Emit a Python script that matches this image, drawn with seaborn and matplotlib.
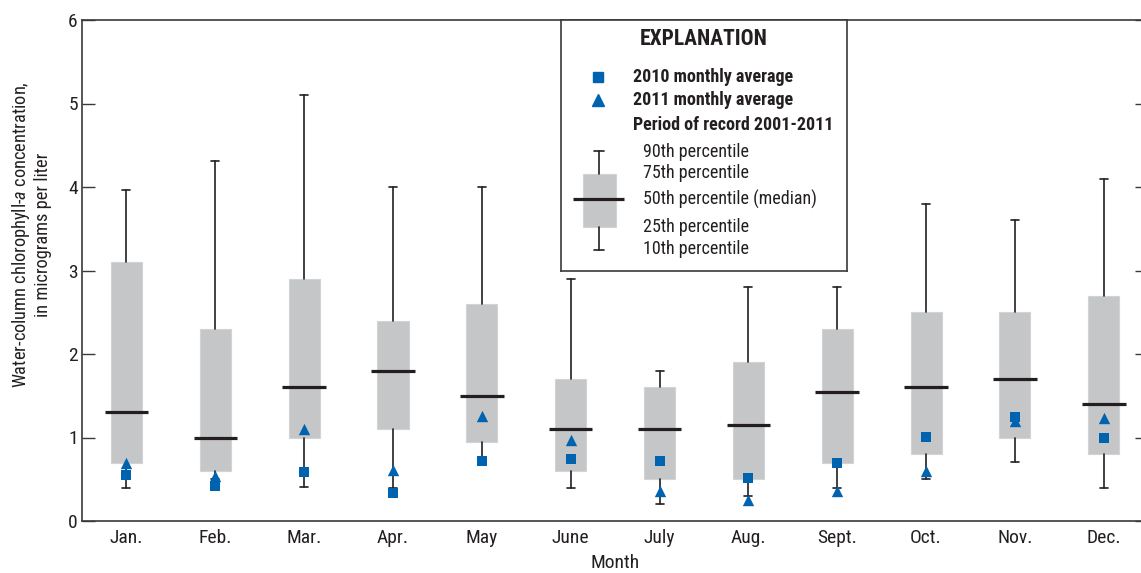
import numpy as np
import pandas as pd
import matplotlib
matplotlib.use("Agg")
import matplotlib.pyplot as plt
from matplotlib import font_manager
import seaborn as sns

# Monthly chlorophyll-a statistics, period of record 2001-2011 (micrograms per liter)
months = ["Jan.", "Feb.", "Mar.", "Apr.", "May", "June",
          "July", "Aug.", "Sept.", "Oct.", "Nov.", "Dec."]
p10 = [0.40, 0.50, 0.41, 0.40, 0.72, 0.40, 0.20, 0.30, 0.40, 0.50, 0.71, 0.40]
p25 = [0.70, 0.60, 1.00, 1.10, 0.95, 0.60, 0.50, 0.50, 0.70, 0.80, 1.00, 0.80]
p50 = [1.30, 1.00, 1.60, 1.80, 1.50, 1.10, 1.10, 1.15, 1.55, 1.60, 1.70, 1.40]
p75 = [3.10, 2.30, 2.90, 2.40, 2.60, 1.70, 1.60, 1.90, 2.30, 2.50, 2.50, 2.70]
p90 = [3.97, 4.31, 5.10, 4.00, 4.00, 2.90, 1.80, 2.80, 2.80, 3.80, 3.60, 4.10]

# Monthly averages for individual years
avg2010 = [0.55, 0.42, 0.59, 0.34, 0.72, 0.74, 0.72, 0.51, 0.70, 1.01, 1.25, 0.99]
avg2011 = [0.70, 0.54, 1.10, 0.61, 1.26, 0.97, 0.36, 0.25, 0.36, 0.60, 1.20, 1.23]

y_ticks = [0, 1, 2, 3, 4, 5, 6]

BLUE = "#0063b0"
GREY = "#c5c6c8"
INK = "#231f20"

sns.set_style("ticks")
available = {f.name for f in font_manager.fontManager.ttflist}
FAMILY = next((n for n in ["Liberation Sans Narrow", "Roboto Condensed", "Open Sans Condensed"]
               if n in available), "Liberation Sans")
plt.rcParams["font.family"] = [FAMILY, "DejaVu Sans"]
plt.rcParams["mathtext.fontset"] = "custom"
plt.rcParams["mathtext.rm"] = FAMILY
plt.rcParams["mathtext.it"] = FAMILY + ":italic"
plt.rcParams["text.color"] = INK

fig = plt.figure(figsize=(11.41, 5.73), dpi=100)
W, H = 1141, 573
ax = fig.add_axes([82 / W, (H - 521) / H, 1060 / W, 501 / H])

pos = np.arange(len(months))

# Boxes: 25th-75th percentile, whiskers to 10th / 90th percentile
stats = [dict(whislo=a, q1=b, med=c, q3=d, whishi=e)
         for a, b, c, d, e in zip(p10, p25, p50, p75, p90)]
ax.bxp(stats, positions=pos, widths=0.35, capwidths=0.09, patch_artist=True,
       showfliers=False,
       boxprops=dict(facecolor=GREY, edgecolor="#d2d3d5", linewidth=0.8),
       whiskerprops=dict(color=INK, linewidth=1.2),
       capprops=dict(color=INK, linewidth=1.2),
       medianprops=dict(linewidth=0), zorder=1)
ax.hlines(p50, pos - 0.245, pos + 0.245, color=INK, linewidth=2.3, zorder=2)

df = pd.DataFrame({"month": months, "y2010": avg2010, "y2011": avg2011})
sns.stripplot(data=df, x="month", y="y2011", marker="^", s=8.2, color=BLUE,
              jitter=False, linewidth=0, ax=ax, zorder=3)
sns.stripplot(data=df, x="month", y="y2010", marker="s", s=7.5, color=BLUE,
              jitter=False, linewidth=0, ax=ax, zorder=4)

ax.set_xlim(-0.5, 11.43)
ax.set_ylim(0, 6)
ax.set_yticks(y_ticks)
ax.set_yticklabels([str(t) for t in y_ticks])
ax.set_xticks(pos)
ax.set_xticklabels(months)

ax.tick_params(axis="x", length=0, pad=6, labelsize=14, labelcolor=INK)
ax.tick_params(axis="y", direction="in", length=9.5, width=1.0, color="#3a3a3a",
               left=True, right=True, pad=3, labelsize=14, labelcolor=INK)
for t in ax.yaxis.get_major_ticks():
    t.tick2line.set_markersize(5)

for side in ["left", "right", "top", "bottom"]:
    ax.spines[side].set_visible(True)
    ax.spines[side].set_color("#3a3a3a")
    ax.spines[side].set_linewidth(1.2)

ax.set_xlabel("Month", fontsize=14, color=INK)
ax.xaxis.set_label_coords(0.503, -0.066)
ax.set_ylabel("Water-column chlorophyll-$\\mathit{a}$ concentration,\nin micrograms per liter",
              fontsize=13.2, color=INK, multialignment="center", linespacing=1.15)
ax.yaxis.set_label_coords(-0.028, 0.572)

# Explanation box
lg = fig.add_axes([561 / W, (H - 271) / H, 286 / W, 251 / H])
for side in lg.spines.values():
    side.set_color("#3a3a3a")
    side.set_linewidth(1.2)
lg.set_facecolor("white")

lg.text(143, 19, "EXPLANATION", ha="center", va="center", fontsize=15.5, fontweight="bold")
lg.plot([37], [57], marker="s", ms=7.7, color=BLUE, linestyle="none")
lg.plot([37], [80], marker="^", ms=8.2, color=BLUE, linestyle="none")
lg.text(72, 57, "2010 monthly average", va="center", fontsize=13, fontweight="bold")
lg.text(72, 80, "2011 monthly average", va="center", fontsize=13, fontweight="bold")
lg.text(72, 105, "Period of record 2001-2011", va="center", fontsize=13, fontweight="bold")

glyph = [dict(whislo=230, q1=207, med=179, q3=154, whishi=131)]
lg.bxp(glyph, positions=[38], widths=33, capwidths=10, patch_artist=True,
       showfliers=False,
       boxprops=dict(facecolor=GREY, edgecolor="#d2d3d5", linewidth=0.8),
       whiskerprops=dict(color=INK, linewidth=1.2),
       capprops=dict(color=INK, linewidth=1.2),
       medianprops=dict(linewidth=0))
lg.hlines([179], 12, 63, color=INK, linewidth=2.3)
lg.set_xlim(0, 286)
lg.set_ylim(251, 0)
lg.set_xticks([])
lg.set_yticks([])

for yy, lab in zip([132, 153, 179, 207, 229],
                   ["90th percentile", "75th percentile", "50th percentile (median)",
                    "25th percentile", "10th percentile"]):
    lg.text(82, yy, lab, va="center", fontsize=13)

fig.savefig("out.png", dpi=100)
